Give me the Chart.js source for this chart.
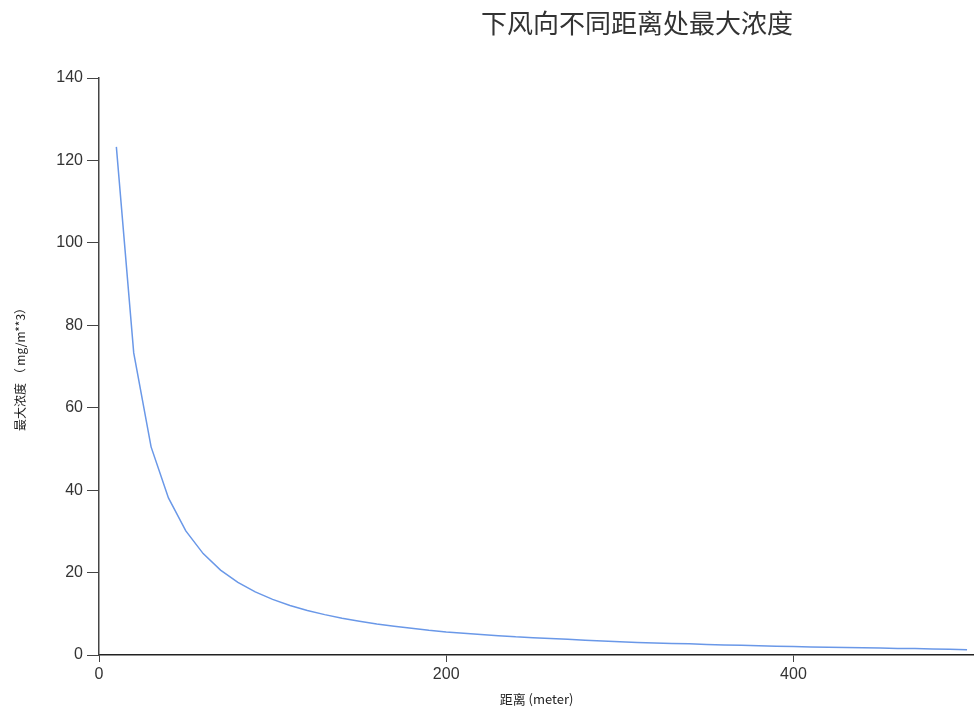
<!DOCTYPE html>
<html>
<head>
<meta charset="utf-8">
<script src="https://cdn.jsdelivr.net/npm/chart.js@4/dist/chart.umd.min.js"></script>
<style>
  html, body { margin: 0; padding: 0; background: #fff; }
  #wrap { width: 974px; height: 711px; position: relative; }
</style>
</head>
<body>
<div id="wrap"><canvas id="chart"></canvas></div>
<script>
// values
const chartTitle = '下风向不同距离处最大浓度';
const xTitle = '距离 (meter)';
const yTitle = '最大浓度 （ mg/m**3）';
const distances = [10, 20, 30, 40, 50, 60, 70, 80, 90, 100,
    110, 120, 130, 140, 150, 160, 170, 180, 190, 200,
    210, 220, 230, 240, 250, 260, 270, 280, 290, 300,
    310, 320, 330, 340, 350, 360, 370, 380, 390, 400,
    410, 420, 430, 440, 450, 460, 470, 480, 490, 500];
const concentration = [123.3, 73.3, 50.5, 38.1, 30.1, 24.6, 20.6, 17.6, 15.3, 13.5,
    12.0, 10.8, 9.8, 8.9, 8.2, 7.5, 7.0, 6.5, 6.0, 5.6,
    5.3, 5.0, 4.7, 4.4, 4.2, 4.0, 3.8, 3.6, 3.4, 3.2,
    3.05, 2.9, 2.8, 2.7, 2.55, 2.45, 2.35, 2.25, 2.15, 2.05,
    1.95, 1.9, 1.8, 1.75, 1.7, 1.6, 1.55, 1.45, 1.4, 1.3];

const points = distances.map((d, i) => ({ x: d, y: concentration[i] }));

// title sits right of centre in the original, so draw it by hand
const titlePlugin = {
    id: 'offsetTitle',
    afterDraw(chart) {
        const ctx = chart.ctx;
        ctx.save();
        ctx.font = '26px "Noto Sans CJK SC", sans-serif';
        ctx.fillStyle = '#333';
        ctx.textAlign = 'center';
        ctx.textBaseline = 'middle';
        ctx.fillText(chartTitle, 637, 23);
        ctx.restore();
    }
};

new Chart(document.getElementById('chart'), {
    type: 'line',
    data: {
        datasets: [{
            data: points,
            borderColor: '#6a98e8',
            borderWidth: 1.5,
            pointRadius: 0,
            tension: 0,
            fill: false
        }]
    },
    options: {
        responsive: true,
        maintainAspectRatio: false,
        animation: false,
        layout: { padding: { top: 78, left: 0, right: 0, bottom: 0 } },
        plugins: { legend: { display: false }, tooltip: { enabled: false } },
        scales: {
            x: {
                type: 'linear',
                min: 0,
                max: 504,
                afterFit: (s) => { s.height = 56; },
                border: { display: true, color: '#222', width: 1.5 },
                grid: { drawOnChartArea: false, drawTicks: true, tickLength: 7, color: '#444' },
                ticks: {
                    stepSize: 200,
                    includeBounds: false,
                    padding: 3,
                    color: '#333',
                    font: { family: 'Liberation Sans, Arial, sans-serif', size: 16 }
                },
                title: {
                    display: true,
                    text: xTitle,
                    color: '#222',
                    font: { family: '"Noto Sans CJK SC", sans-serif', size: 13 },
                    padding: { top: 0, bottom: 4 }
                }
            },
            y: {
                min: 0,
                max: 140,
                afterFit: (s) => { s.width = 99; },
                border: { display: true, color: '#444', width: 1.5 },
                grid: { drawOnChartArea: false, drawTicks: true, tickLength: 12, color: '#444' },
                ticks: {
                    stepSize: 20,
                    padding: 4,
                    color: '#333',
                    font: { family: 'Liberation Sans, Arial, sans-serif', size: 16 }
                },
                title: {
                    display: true,
                    text: yTitle,
                    color: '#222',
                    font: { family: '"Noto Sans CJK SC", sans-serif', size: 12 },
                    padding: { top: 13, bottom: 0 }
                }
            }
        }
    },
    plugins: [titlePlugin]
});
</script>
</body>
</html>
